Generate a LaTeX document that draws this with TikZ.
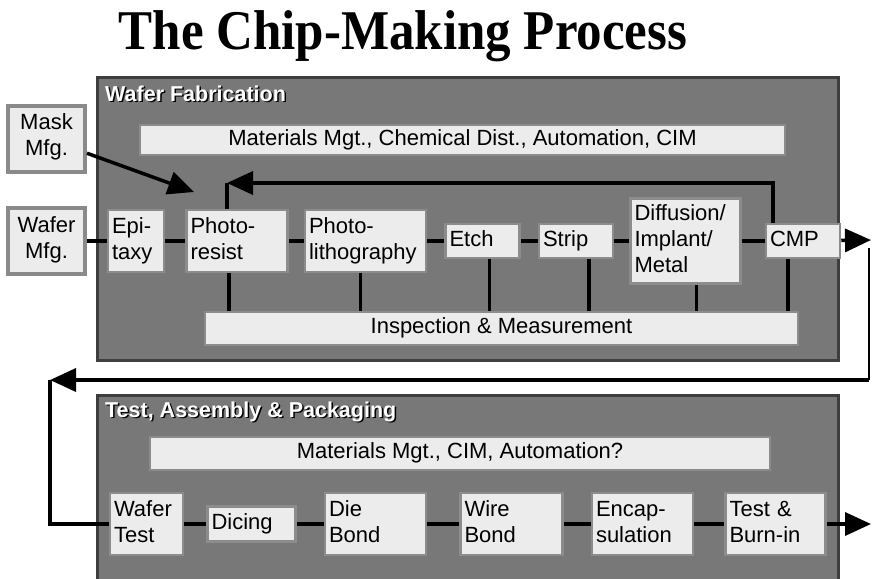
\documentclass[tikz,border=0pt]{standalone}
\usepackage{fontspec}
\setmainfont{Liberation Sans}
\newfontfamily\titlefont{Liberation Serif}
\usepackage{tikz}
\usetikzlibrary{arrows.meta,positioning}

\definecolor{stagefill}{HTML}{787878}
\definecolor{stageedge}{HTML}{3E3E3E}
\definecolor{cellfill}{HTML}{ECECEC}
\definecolor{celledge}{HTML}{8C8C8C}
\definecolor{extedge}{HTML}{8A8A8A}

\begin{document}
\begin{tikzpicture}[
  x=1pt,y=-1pt,
  font=\fontsize{22}{26}\selectfont,
  stage/.style={draw=stageedge,fill=stagefill,line width=3pt,inner sep=0pt},
  cell/.style={draw=celledge,fill=cellfill,line width=2.5pt,inner xsep=4pt,inner ysep=0pt,align=left,text width=#1,
    execute at begin node=\strut,execute at end node=\strut},
  band/.style={draw=celledge,fill=cellfill,line width=2.5pt,inner sep=0pt,minimum width=#1,minimum height=33pt,
    execute at begin node=\strut},
  ext/.style={draw=extedge,fill=cellfill,line width=4pt,inner sep=0pt,align=center,minimum width=77pt,minimum height=66pt,
    execute at begin node=\strut,execute at end node=\strut},
  head/.style={anchor=base west,inner sep=0pt,font=\bfseries\fontsize{21.5}{22}\selectfont},
  link/.style={line width=3.5pt},
  flow/.style={link,-{Triangle[length=26pt,width=23pt]}}
]
\useasboundingbox (0,0) rectangle (872,578);

% title
\node[anchor=base,inner sep=0pt,font=\titlefont\bfseries\fontsize{51}{51}\selectfont] (title) at (403,50)
  {\scalebox{1}[1.1]{The Chip-Making Process}};

% the two stages
\node[stage,minimum width=741pt,minimum height=283pt] (fab) at (467.5,218.5) {};
\node[stage,minimum width=741pt,minimum height=215pt] (tap) at (467.5,502.5) {};
\node[head,black] (fabShade) at (106.5,102.5) {Wafer Fabrication};
\node[head,white] (fabHead) at (105,101) {Wafer Fabrication};
\node[head,black] (tapShade) at (106.5,418.5) {Test, Assembly \& Packaging};
\node[head,white] (tapHead) at (105,417) {Test, Assembly \& Packaging};

% wafer fabrication
\node[ext] (mask) at (46.5,138.5) {Mask\\Mfg.};
\node[ext] (wmfg) at (46.5,241) {Wafer\\Mfg.};
\node[band=645pt,minimum height=30pt] (fabmat) at (462.5,140) {Materials Mgt., Chemical Dist., Automation, CIM};
\node[cell=48pt,minimum height=62pt] (epi) at (136,241) {Epi-\\taxy};
\node[cell=93pt,minimum height=62pt,right=20pt of epi] (resist) {Photo-\\resist};
\node[cell=113pt,minimum height=62pt,right=15pt of resist] (litho) {Photo-\\lithography};
\node[cell=66pt,minimum height=34pt,right=17pt of litho] (etch) {Etch};
\node[cell=66pt,minimum height=34pt,right=17pt of etch] (strip) {Strip};
\node[cell=102pt,minimum height=85pt,right=15pt of strip] (diff) {Diffusion/\\Implant/\\Metal};
\node[cell=66pt,minimum height=34pt,right=23pt of diff] (cmp) {CMP};
\node[band=593pt] (insp) at (501.5,328.5) {Inspection \& Measurement};

\draw[link] (wmfg) -- (epi);
\draw[link] (epi) -- (resist);
\draw[link] (resist) -- (litho);
\draw[link] (litho) -- (etch);
\draw[link] (etch) -- (strip);
\draw[link] (strip) -- (diff);
\draw[link] (diff) -- (cmp);
\foreach \n/\dx in {resist/-8,litho/-5,etch/7,strip/13,diff/11,cmp/-15}
  \draw[link] (\n.south) ++(\dx,0) coordinate (drop) -- (drop |- insp.north);

% loop back to photoresist
\coordinate (backR) at (773,183);
\coordinate (backL) at (227,183);
\draw[flow] (cmp.north -| backR) -- (backR) -- (backL);
\draw[link] (backL) -- (backL |- resist.north);

% masks
\coordinate (maskTip) at (194,192);
\draw[flow] (mask.-20) -- (maskTip);

% out of the fab and round to test
\coordinate (fabOut) at (871,240);
\draw[flow] (cmp) -- (fabOut);
\coordinate (retTop) at (869,248);
\coordinate (retR) at (869,380);
\coordinate (retL) at (50,380);
\draw[line width=2pt] (retTop) -- (retR);
\draw[flow] (retR) -- (retL);

% test, assembly & packaging
\node[band=620pt] (tapmat) at (460,453.5) {Materials Mgt., CIM, Automation?};
\node[cell=65pt,minimum height=62pt] (wtest) at (146.5,524) {Wafer\\Test};
\node[cell=80pt,minimum height=35pt,right=22pt of wtest] (dicing) {Dicing};
\node[cell=93pt,minimum height=62pt,right=27pt of dicing] (diebond) {Die\\Bond};
\node[cell=94pt,minimum height=62pt,right=32pt of diebond] (wirebond) {Wire\\Bond};
\node[cell=93pt,minimum height=62pt,right=27pt of wirebond] (encap) {Encap-\\sulation};
\node[cell=92pt,minimum height=62pt,right=30pt of encap] (burnin) {Test \&\\Burn-in};

\draw[link] (retL) |- (wtest.west);
\draw[link] (wtest) -- (dicing);
\draw[link] (dicing) -- (diebond);
\draw[link] (diebond) -- (wirebond);
\draw[link] (wirebond) -- (encap);
\draw[link] (encap) -- (burnin);
\coordinate (tapOut) at (871,524);
\draw[flow] (burnin) -- (tapOut);
\end{tikzpicture}
\end{document}
